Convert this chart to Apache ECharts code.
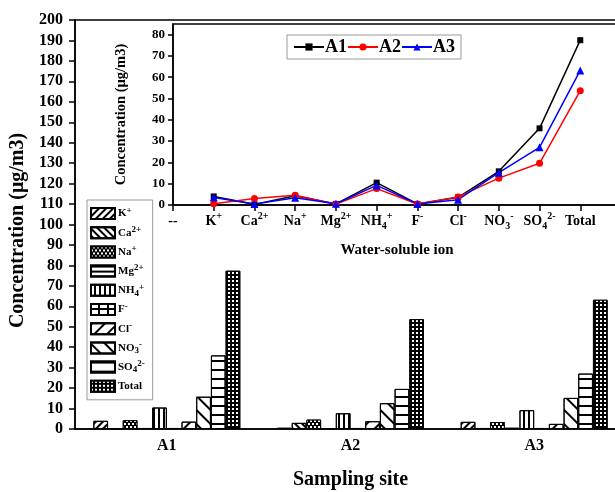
<!DOCTYPE html>
<html>
<head>
<meta charset="utf-8">
<script src="https://cdn.jsdelivr.net/npm/echarts@6/dist/echarts.min.js"></script>
<style>
  html, body { margin: 0; padding: 0; background: #fff; }
  #chart { width: 615px; height: 492px; }
</style>
</head>
<body>
<div id="chart"></div>
<script>
var sites = ['A1', 'A2', 'A3'];
var ions = ['K+', 'Ca2+', 'Na+', 'Mg2+', 'NH4+', 'F-', 'Cl-', 'NO3-', 'SO42-', 'Total'];
var ionLabels = ['K{sup|+}', 'Ca{sup|2+}', 'Na{sup|+}', 'Mg{sup|2+}', 'NH{sub|4}{sup|+}',
                 'F{sup|-}', 'Cl{sup|-}', 'NO{sub|3}{sup|-}', 'SO{sub|4}{sup|2-}', 'Total'];
var a1Values = [4.0, 0.3, 4.3, 0.5, 10.5, 0.5, 3.6, 15.8, 36.0, 77.4];
var a2Values = [0.6, 3.0, 4.6, 0.4, 7.7, 0.5, 3.8, 12.6, 19.6, 53.7];
var a3Values = [3.5, 0.5, 3.4, 0.6, 9.2, 0.5, 2.5, 15.2, 27.1, 63.2];
var insetCats = ['--'].concat(ions).concat(['']);

var font = 'Liberation Serif';
var myChart = echarts.init(document.getElementById('chart'));

// hatch patterns for each ion
var decals = [
    {symbol: 'rect', symbolSize: 1, dashArrayX: [1, 0], dashArrayY: [1.2, 2.4], rotation: -Math.PI / 4, color: '#000'},
    {symbol: 'rect', symbolSize: 1, dashArrayX: [1, 0], dashArrayY: [1.2, 2.4], rotation: Math.PI / 4, color: '#000'},
    {symbol: 'rect', symbolSize: 1, dashArrayX: [[1.4, 1.4], [0, 1.4, 1.4, 0]], dashArrayY: [1.4, 0.8], color: '#fff', backgroundColor: '#000'},
    {symbol: 'rect', symbolSize: 1, dashArrayX: [1, 0], dashArrayY: [1.2, 2.2], rotation: 0, color: '#000'},
    {symbol: 'rect', symbolSize: 1, dashArrayX: [1, 0], dashArrayY: [1.3, 2.3], rotation: Math.PI / 2, color: '#000'},
    {symbol: 'rect', symbolSize: 1, dashArrayX: [6.5, 1.4], dashArrayY: [4, 1.4], color: '#fff', backgroundColor: '#000'},
    {symbol: 'rect', symbolSize: 1, dashArrayX: [1, 0], dashArrayY: [1.2, 7], rotation: -Math.PI / 4, color: '#000'},
    {symbol: 'rect', symbolSize: 1, dashArrayX: [1, 0], dashArrayY: [1.2, 8], rotation: Math.PI / 4, color: '#000'},
    {symbol: 'rect', symbolSize: 1, dashArrayX: [1, 0], dashArrayY: [1.3, 7], rotation: 0, color: '#000'},
    {symbol: 'rect', symbolSize: 1, dashArrayX: [1.8, 1.2], dashArrayY: [1.8, 1.2], color: '#fff', backgroundColor: '#000'}
];

var series = [];
for (var i = 0; i < ions.length; i++) {
    series.push({
        name: ions[i],
        type: 'bar',
        xAxisIndex: 0,
        yAxisIndex: 0,
        barGap: '0%',
        barCategoryGap: '20%',
        itemStyle: {
            color: '#fff',
            borderColor: '#000',
            borderWidth: 1,
            decal: decals[i]
        },
        data: [a1Values[i], a2Values[i], a3Values[i]]
    });
}

var lineColors = ['#000', '#f00', '#00f'];
var lineSymbols = ['rect', 'circle', 'triangle'];
var lineSizes = [6, 7, 8];
var lineData = [a1Values, a2Values, a3Values];
for (var j = 0; j < sites.length; j++) {
    series.push({
        name: sites[j],
        type: 'line',
        xAxisIndex: 1,
        yAxisIndex: 1,
        symbol: lineSymbols[j],
        symbolSize: lineSizes[j],
        lineStyle: {color: lineColors[j], width: 1.5},
        itemStyle: {color: lineColors[j]},
        data: [null].concat(lineData[j])
    });
}

var labelRich = {
    sup: {fontFamily: font, fontWeight: 'bold', fontSize: 9, lineHeight: 9, verticalAlign: 'top'},
    sub: {fontFamily: font, fontWeight: 'bold', fontSize: 9, lineHeight: 9, verticalAlign: 'bottom'}
};

option = {
    animation: false,
    backgroundColor: '#fff',
    grid: [
        {left: 75, top: 20, width: 551, height: 409, outerBoundsMode: 'none', show: true, borderColor: '#000', borderWidth: 1.5},
        {left: 173, top: 24, width: 448, height: 181, outerBoundsMode: 'none', show: true, backgroundColor: '#fff', borderColor: '#000', borderWidth: 1.5}
    ],
    legend: [
        {
            data: ions,
            orient: 'vertical',
            left: 87,
            top: 200,
            width: 63,
            padding: [6, 8, 6, 3],
            itemWidth: 24,
            itemHeight: 11,
            itemGap: 4.2,
            icon: 'rect',
            borderColor: '#999',
            borderWidth: 1,
            backgroundColor: '#fff',
            formatter: function (name) {
                return ionLabels[ions.indexOf(name)];
            },
            textStyle: {
                fontFamily: font, fontWeight: 'bold', fontSize: 11, color: '#000', lineHeight: 15,
                padding: [0, 0, 0, -2],
                rich: labelRich
            }
        },
        {
            data: sites,
            orient: 'horizontal',
            left: 287,
            top: 35,
            padding: [3, 6],
            itemWidth: 30,
            itemHeight: 9,
            itemGap: 0,
            borderColor: '#999',
            borderWidth: 1,
            textStyle: {fontFamily: font, fontWeight: 'bold', fontSize: 18, color: '#000', padding: [0, 0, 0, -4]}
        }
    ],
    xAxis: [
        {
            type: 'category',
            gridIndex: 0,
            data: sites,
            name: 'Sampling site',
            nameLocation: 'middle',
            nameGap: 41,
            nameTextStyle: {fontFamily: font, fontWeight: 'bold', fontSize: 20, color: '#000'},
            axisLine: {lineStyle: {color: '#000', width: 1.5}},
            axisTick: {alignWithLabel: true, length: 7, lineStyle: {width: 1.5}},
            axisLabel: {fontFamily: font, fontWeight: 'bold', fontSize: 16, color: '#000', margin: 9}
        },
        {
            type: 'category',
            gridIndex: 1,
            data: insetCats,
            boundaryGap: false,
            name: 'Water-soluble ion',
            nameLocation: 'middle',
            nameGap: 38,
            nameTextStyle: {fontFamily: font, fontWeight: 'bold', fontSize: 15, color: '#000'},
            axisLine: {lineStyle: {color: '#000', width: 1.5}},
            axisTick: {length: 6, lineStyle: {width: 1.5}},
            axisLabel: {
                fontFamily: font, fontWeight: 'bold', fontSize: 14, color: '#000', margin: 6, lineHeight: 20,
                interval: 0,
                formatter: function (v) {
                    var k = ions.indexOf(v);
                    return k >= 0 ? ionLabels[k] : v;
                },
                rich: {
                    sup: {fontFamily: font, fontWeight: 'bold', fontSize: 10, lineHeight: 10, verticalAlign: 'top'},
                    sub: {fontFamily: font, fontWeight: 'bold', fontSize: 10, lineHeight: 10, verticalAlign: 'bottom'}
                }
            }
        }
    ],
    yAxis: [
        {
            type: 'value',
            gridIndex: 0,
            min: 0,
            max: 200,
            interval: 10,
            name: 'Concentration (μg/m3)',
            nameLocation: 'middle',
            nameGap: 42,
            nameTextStyle: {fontFamily: font, fontWeight: 'bold', fontSize: 20, color: '#000', padding: [0, 12, 0, 0]},
            splitLine: {show: false},
            axisLine: {show: true, lineStyle: {color: '#000', width: 1.5}},
            axisTick: {show: true, length: 6, lineStyle: {width: 1.5}},
            axisLabel: {fontFamily: font, fontWeight: 'bold', fontSize: 16, color: '#000', margin: 12}
        },
        {
            type: 'value',
            gridIndex: 1,
            min: 0,
            max: 85,
            interval: 10,
            name: 'Concentration (μg/m3)',
            nameLocation: 'middle',
            nameGap: 44,
            nameTextStyle: {fontFamily: font, fontWeight: 'bold', fontSize: 14.5, color: '#000'},
            splitLine: {show: false},
            axisLine: {show: true, lineStyle: {color: '#000', width: 1.5}},
            axisTick: {show: true, length: 5, lineStyle: {width: 1.5}},
            axisLabel: {fontFamily: font, fontWeight: 'bold', fontSize: 13, color: '#000', margin: 8, showMaxLabel: false}
        }
    ],
    series: series
};
myChart.setOption(option);
</script>
</body>
</html>
